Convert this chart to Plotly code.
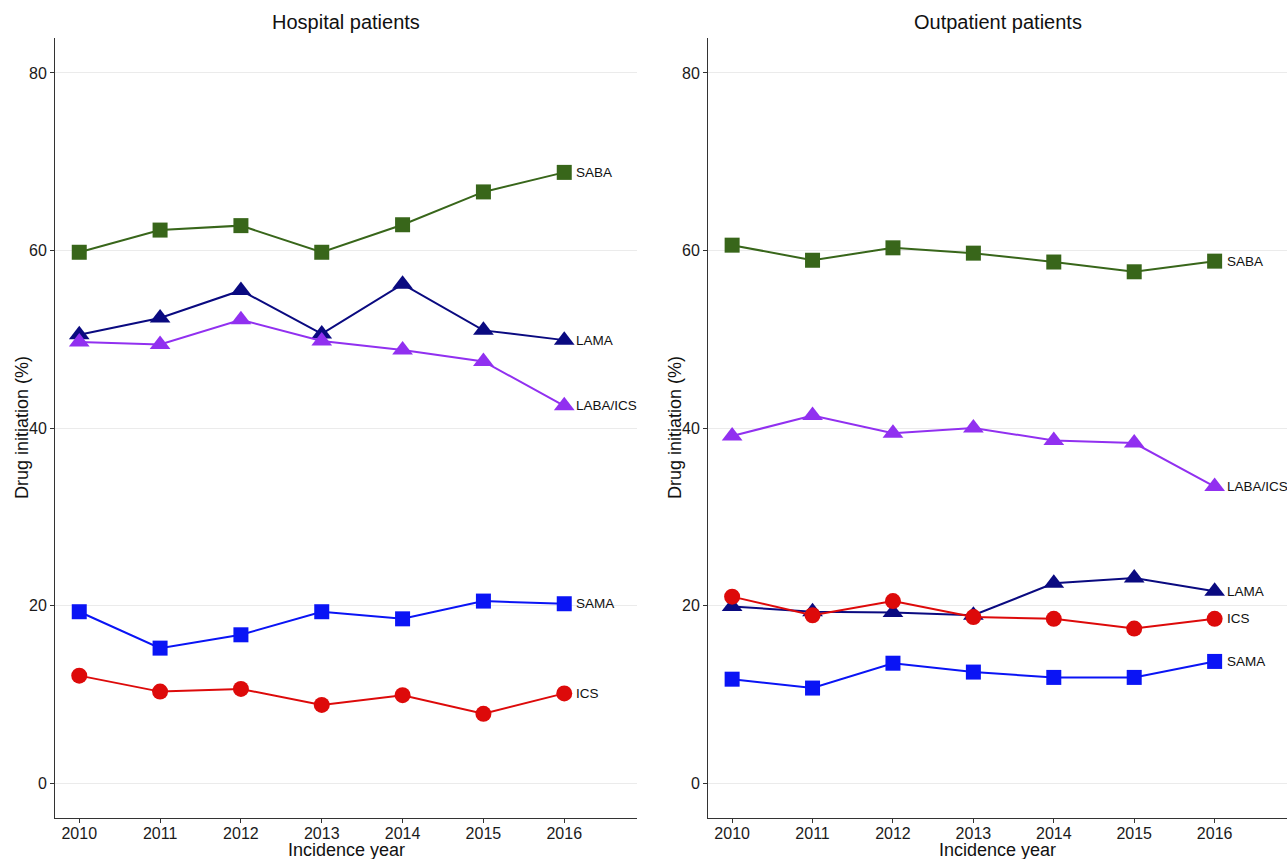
import plotly.graph_objects as go

years = [2010, 2011, 2012, 2013, 2014, 2015, 2016]
drugs = ["SABA", "LAMA", "LABA/ICS", "SAMA", "ICS"]

hosp_saba = [59.8, 62.3, 62.8, 59.8, 62.9, 66.6, 68.8]
hosp_lama = [50.5, 52.4, 55.5, 50.6, 56.2, 51.0, 49.9]
hosp_labaics = [49.7, 49.4, 52.2, 49.8, 48.8, 47.5, 42.5]
hosp_sama = [19.3, 15.2, 16.7, 19.3, 18.5, 20.5, 20.2]
hosp_ics = [12.1, 10.3, 10.6, 8.8, 9.9, 7.8, 10.1]

out_saba = [60.6, 58.9, 60.3, 59.7, 58.7, 57.6, 58.8]
out_lama = [19.9, 19.3, 19.2, 18.9, 22.5, 23.1, 21.6]
out_labaics = [39.1, 41.4, 39.4, 40.0, 38.6, 38.3, 33.4]
out_sama = [11.7, 10.7, 13.5, 12.5, 11.9, 11.9, 13.7]
out_ics = [21.0, 18.9, 20.5, 18.7, 18.5, 17.4, 18.5]

panel_titles = ["Hospital patients", "Outpatient patients"]
x_title = "Incidence year"
y_title = "Drug initiation (%)"

colors = {"SABA": "#38661A", "LAMA": "#0A0A80", "LABA/ICS": "#9130F0",
          "SAMA": "#0A14F5", "ICS": "#DD0A0A"}
symbols = {"SABA": "square", "LAMA": "triangle-up", "LABA/ICS": "triangle-up",
           "SAMA": "square", "ICS": "circle"}
sizes = {"square": 15, "triangle-up": 18, "circle": 16}

panels = [
    {"SABA": hosp_saba, "LAMA": hosp_lama, "LABA/ICS": hosp_labaics, "SAMA": hosp_sama, "ICS": hosp_ics},
    {"SABA": out_saba, "LAMA": out_lama, "LABA/ICS": out_labaics, "SAMA": out_sama, "ICS": out_ics},
]

fig = go.Figure()
annotations = []
for i, data in enumerate(panels):
    xa = "x" if i == 0 else "x2"
    ya = "y" if i == 0 else "y2"
    for d in drugs:
        fig.add_trace(go.Scatter(
            x=years, y=data[d], mode="lines+markers", name=d, showlegend=False,
            xaxis=xa, yaxis=ya,
            line=dict(color=colors[d], width=2),
            marker=dict(symbol=symbols[d], size=sizes[symbols[d]], color=colors[d],
                        line=dict(width=0)),
            cliponaxis=False,
        ))
        annotations.append(dict(
            x=years[-1], y=data[d][-1], xref=xa, yref=ya, text=d, showarrow=False,
            xanchor="left", yanchor="middle", xshift=10,
            font=dict(size=13.5, color="#111111", family="Liberation Sans, Arial, sans-serif"),
        ))

L, R, T, B = 55, 0, 38, 41
W, H = 1287, 859
pw = W - L - R
ph = H - T - B

def px_to_xpaper(px):
    return (px - L) / pw

def py_to_ypaper(py):
    return (H - B - py) / ph

dom1 = [0, px_to_xpaper(637)]
dom2 = [px_to_xpaper(708), 1.0]

axis_common = dict(showline=True, linecolor="#333333", linewidth=1, ticks="outside",
                   ticklen=4, tickcolor="#333333", tickwidth=1,
                   tickfont=dict(size=16, color="#1a1a1a"), zeroline=False)

xaxis_common = dict(axis_common, range=[2009.70, 2016.90], tickvals=years,
                    ticktext=[str(y) for y in years], showgrid=False,
                    ticklabelstandoff=-3)
yaxis_common = dict(axis_common, range=[-3.94, 83.94], tickvals=[0, 20, 40, 60, 80],
                    showgrid=True, gridcolor="#EBEBEB", gridwidth=1)

for i, t in enumerate(panel_titles):
    dom = dom1 if i == 0 else dom2
    cx = (dom[0] + dom[1]) / 2
    annotations.append(dict(x=cx, y=py_to_ypaper(22), xref="paper", yref="paper", text=t,
                            showarrow=False, xanchor="center", yanchor="middle",
                            font=dict(size=20, color="#111111")))
    annotations.append(dict(x=cx, y=py_to_ypaper(850), xref="paper", yref="paper", text=x_title,
                            showarrow=False, xanchor="center", yanchor="middle",
                            font=dict(size=18, color="#111111")))
    yx = px_to_xpaper(22) if i == 0 else px_to_xpaper(675)
    annotations.append(dict(x=yx, y=py_to_ypaper(428), xref="paper", yref="paper", text=y_title,
                            showarrow=False, xanchor="center", yanchor="middle", textangle=-90,
                            font=dict(size=18, color="#111111")))

fig.update_layout(
    width=W, height=H,
    margin=dict(l=L, r=R, t=T, b=B, autoexpand=False),
    paper_bgcolor="white", plot_bgcolor="white",
    font=dict(family="Liberation Sans, Arial, sans-serif", color="#111111"),
    xaxis=dict(xaxis_common, domain=dom1, anchor="y"),
    yaxis=dict(yaxis_common, domain=[0, 1], anchor="x"),
    xaxis2=dict(xaxis_common, domain=dom2, anchor="y2"),
    yaxis2=dict(yaxis_common, domain=[0, 1], anchor="x2"),
    annotations=annotations,
    showlegend=False,
)

fig.write_html("out.html", config={"displayModeBar": False},
               post_script="document.body.style.margin='0';document.body.style.padding='0';document.body.style.overflow='hidden';")
